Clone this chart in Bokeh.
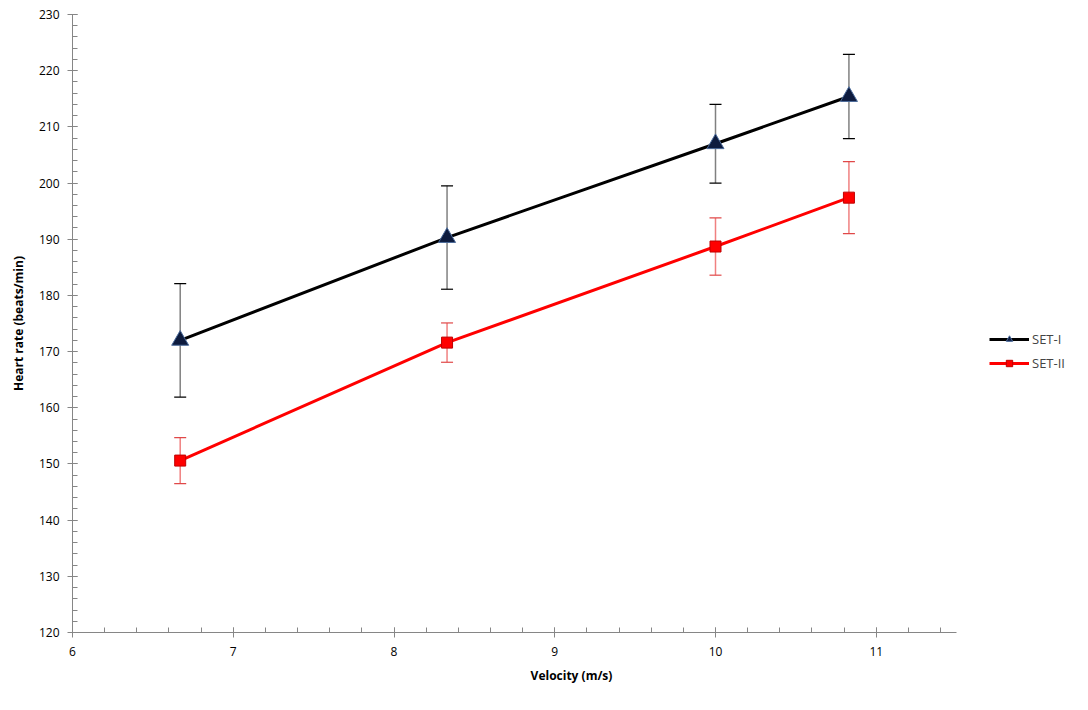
from bokeh.plotting import figure
from bokeh.models import (ColumnDataSource, Range1d, FixedTicker, Whisker, TeeHead,
                          Legend, LegendItem)
from bokeh.embed import file_html
from bokeh.resources import INLINE

# ---- data ----
velocity = [6.67, 8.33, 10.0, 10.83]
set1_hr = [172.0, 190.3, 207.0, 215.4]
set1_err = [10.1, 9.2, 7.0, 7.5]
set2_hr = [150.6, 171.6, 188.7, 197.4]
set2_err = [4.1, 3.5, 5.1, 6.4]
x_ticks = [6, 7, 8, 9, 10, 11]
y_ticks = [120, 130, 140, 150, 160, 170, 180, 190, 200, 210, 220, 230]
series_names = ["SET-I", "SET-II"]

FONT = "Open Sans"
AXIS_COL = "#868686"

s1 = ColumnDataSource(dict(x=velocity, y=set1_hr,
                           up=[a + b for a, b in zip(set1_hr, set1_err)],
                           lo=[a - b for a, b in zip(set1_hr, set1_err)]))
s2 = ColumnDataSource(dict(x=velocity, y=set2_hr,
                           up=[a + b for a, b in zip(set2_hr, set2_err)],
                           lo=[a - b for a, b in zip(set2_hr, set2_err)]))

W, H = 1072, 694
LEFT, RIGHT, TOP, BOTTOM = 72, 2, 14, 62
p = figure(width=W, height=H, output_backend="svg", toolbar_location=None,
           x_range=Range1d(6, 6 + (W - LEFT - RIGHT) / 160.75), y_range=Range1d(120, 230),
           min_border_left=LEFT, min_border_right=RIGHT, min_border_top=TOP,
           min_border_bottom=BOTTOM)
p.outline_line_color = None
p.grid.visible = False
p.background_fill_color = "white"

# axes
p.xaxis.bounds = (6, 11.5)
p.xaxis.ticker = FixedTicker(ticks=x_ticks,
                             minor_ticks=[6 + 0.2 * i for i in range(28)])
p.yaxis.ticker = FixedTicker(ticks=y_ticks,
                             minor_ticks=[120 + 2 * i for i in range(56)])
for ax in (p.xaxis[0], p.yaxis[0]):
    ax.axis_line_color = AXIS_COL
    ax.major_tick_line_color = AXIS_COL
    ax.minor_tick_line_color = AXIS_COL
    ax.major_tick_in = 5
    ax.major_tick_out = 5
    ax.minor_tick_in = 5
    ax.minor_tick_out = 0
    ax.major_label_text_font = FONT
    ax.major_label_text_font_size = "12px"
    ax.major_label_text_color = "black"
    ax.axis_label_text_font = FONT
    ax.axis_label_text_font_size = "12px"
    ax.axis_label_text_font_style = "bold"
    ax.axis_label_text_color = "black"
p.xaxis.axis_label = "Velocity (m/s)"
p.yaxis.axis_label = "Heart rate (beats/min)"
p.xaxis.major_label_standoff = 9
p.yaxis.major_label_standoff = 8
p.xaxis.axis_label_standoff = 8
p.yaxis.axis_label_standoff = 9

# error bars
w1 = Whisker(source=s1, base="x", upper="up", lower="lo", dimension="height",
             line_color="#808080", line_width=1.5,
             upper_head=TeeHead(size=12, line_color="black", line_width=1.2),
             lower_head=TeeHead(size=12, line_color="black", line_width=1.2),
             level="underlay")
w2 = Whisker(source=s2, base="x", upper="up", lower="lo", dimension="height",
             line_color="#f08080", line_width=1.5,
             upper_head=TeeHead(size=12, line_color="#e04848", line_width=1.2),
             lower_head=TeeHead(size=12, line_color="#e04848", line_width=1.2),
             level="underlay")
p.add_layout(w1)
p.add_layout(w2)

l1 = p.line("x", "y", source=s1, line_color="black", line_width=3)
m1 = p.scatter("x", "y", source=s1, marker="triangle", size=17,
               fill_color="#0d1b3e", line_color="#4a6a9a", line_width=1)
l2 = p.line("x", "y", source=s2, line_color="#ff0000", line_width=3)
m2 = p.scatter("x", "y", source=s2, marker="square", size=11,
               fill_color="#ff0000", line_color="#c00000", line_width=1)

legend = Legend(items=[LegendItem(label=series_names[0], renderers=[l1, m1]),
                       LegendItem(label=series_names[1], renderers=[l2, m2])],
                location=(917, 260), orientation="vertical",
                border_line_color=None, background_fill_alpha=0,
                glyph_width=40, glyph_height=16, label_height=16,
                label_text_font=FONT, label_text_font_size="13px",
                label_standoff=3, spacing=6, padding=4, margin=0)
p.add_layout(legend)

open("out.html", "w").write(file_html(p, INLINE))
